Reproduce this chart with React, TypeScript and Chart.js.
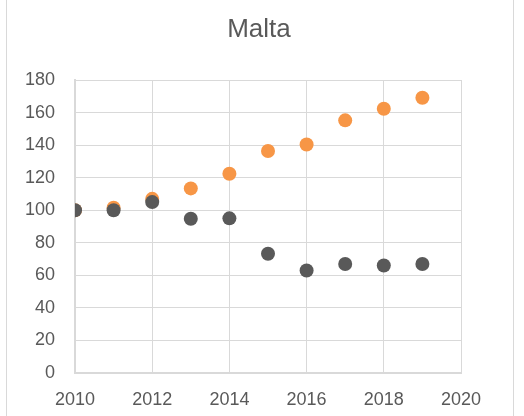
import React, { useEffect, useRef } from "react";
import { Chart, registerables } from "chart.js";

Chart.register(...registerables);

const title = "Malta";
const years = [2010, 2011, 2012, 2013, 2014, 2015, 2016, 2017, 2018, 2019];
const orangeValues = [100, 101.5, 107, 113.4, 122.4, 136.4, 140.4, 155.2, 162.3, 169.1];
const grayValues = [100, 100, 105, 94.8, 95, 73.3, 63, 67, 66, 67];
const xTicks = [2010, 2012, 2014, 2016, 2018, 2020];
const yTicks = [0, 20, 40, 60, 80, 100, 120, 140, 160, 180];

const FONT = "'Liberation Sans', Arial, sans-serif";
const TEXT = "#595959";
const GRID = "#d9d9d9";

const framePlugin = {
  id: "frameAndTitle",
  beforeDraw(chart: any) {
    const ctx = chart.ctx;
    ctx.save();
    ctx.strokeStyle = GRID;
    ctx.lineWidth = 1;
    ctx.beginPath();
    ctx.moveTo(6.5, 0);
    ctx.lineTo(6.5, chart.height);
    ctx.moveTo(513.5, 0);
    ctx.lineTo(513.5, chart.height);
    ctx.stroke();
    ctx.fillStyle = TEXT;
    ctx.font = `26px ${FONT}`;
    ctx.textAlign = "center";
    ctx.textBaseline = "middle";
    ctx.fillText(title, 259, 30);
    ctx.restore();
  },
};

export default function App() {
  const ref = useRef<HTMLCanvasElement>(null);
  useEffect(() => {
    if (!ref.current) return;
    const chart = new Chart(ref.current, {
      type: "scatter",
      data: {
        datasets: [
          {
            label: "Gray",
            data: years.map((x, i) => ({ x, y: grayValues[i] })),
            backgroundColor: "#595959",
            borderColor: "#595959",
            pointRadius: 7,
            pointBorderWidth: 0,
            order: 0,
          },
          {
            label: "Orange",
            data: years.map((x, i) => ({ x, y: orangeValues[i] })),
            backgroundColor: "#F79646",
            borderColor: "#F79646",
            pointRadius: 7,
            pointBorderWidth: 0,
            order: 1,
          },
        ],
      },
      options: {
        animation: false,
        responsive: false,
        maintainAspectRatio: false,
        layout: { padding: { left: 0, right: 63, top: 80, bottom: 0 } },
        plugins: {
          legend: { display: false },
          tooltip: { enabled: false },
          title: { display: false },
        },
        scales: {
          x: {
            type: "linear",
            min: 2010,
            max: 2020,
            afterFit: (s: any) => {
              s.height = 43;
            },
            afterBuildTicks: (s: any) => {
              s.ticks = xTicks.map((v) => ({ value: v }));
            },
            ticks: {
              color: TEXT,
              font: { family: FONT, size: 18 },
              padding: 16,
              maxRotation: 0,
              callback: (v: any) => String(v),
            },
            grid: { color: GRID, lineWidth: 1, drawTicks: false },
            border: { color: GRID, width: 2 },
          },
          y: {
            type: "linear",
            min: 0,
            max: 180,
            afterFit: (s: any) => {
              s.width = 75;
            },
            afterBuildTicks: (s: any) => {
              s.ticks = yTicks.map((v) => ({ value: v }));
            },
            ticks: {
              color: TEXT,
              font: { family: FONT, size: 18 },
              padding: 20,
              callback: (v: any) => String(v),
            },
            grid: { color: GRID, lineWidth: 1, drawTicks: false },
            border: { color: GRID, width: 2 },
          },
        },
      },
      plugins: [framePlugin],
    });
    return () => chart.destroy();
  }, []);
  return (
    <div style={{ position: "fixed", left: 0, top: 0, width: 524, height: 416, background: "#fff" }}>
      <canvas ref={ref} width={524} height={416} style={{ display: "block" }} />
    </div>
  );
}
